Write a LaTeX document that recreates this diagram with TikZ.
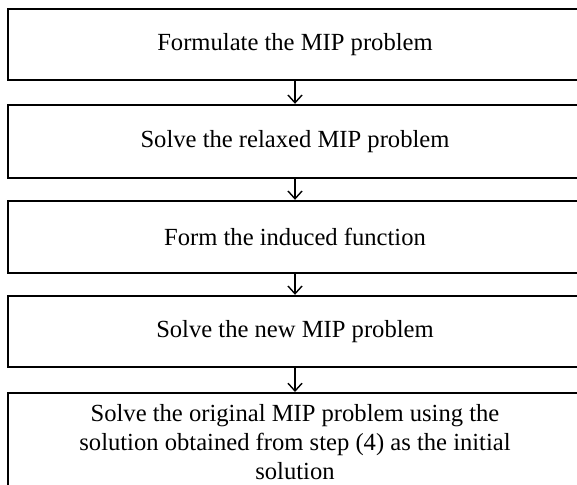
\documentclass[tikz,border=0pt]{standalone}
\usepackage{fontspec}
\setmainfont{Liberation Serif}
\usetikzlibrary{arrows.meta}
\begin{document}
\begin{tikzpicture}[x=0.025cm,y=-0.025cm,
    stepbox/.style={draw, line width=1.7pt, minimum width=14.35cm, align=center,
        font=\fontsize{17.5}{20.5}\selectfont, inner sep=0pt},
    flow/.style={line width=1pt, -{Straight Barb[length=5.5pt,width=10pt,line width=1pt]}}]
        \useasboundingbox (0,0) rectangle (577,485);
        \node[stepbox, minimum height=1.775cm] (formulate) at (295,44.5) {Formulate the MIP problem};
        \node[stepbox, minimum height=1.825cm] (relaxed) at (295,141.5) {Solve the relaxed MIP problem};
        \node[stepbox, minimum height=1.8cm] (induced) at (295,237) {Form the induced function};
        \node[stepbox, minimum height=1.775cm] (newmip) at (295,331.5) {Solve the new MIP problem};
        \node[stepbox, minimum height=2.45cm, anchor=north] (original) at (295,392)
            {Solve the original MIP problem using the\\solution obtained from step (4) as the initial\\solution};
        \draw[flow] (formulate) -- (relaxed);
        \draw[flow] (relaxed) -- (induced);
        \draw[flow] (induced) -- (newmip);
        \draw[flow] (newmip) -- (original);
    \end{tikzpicture}
\end{document}
